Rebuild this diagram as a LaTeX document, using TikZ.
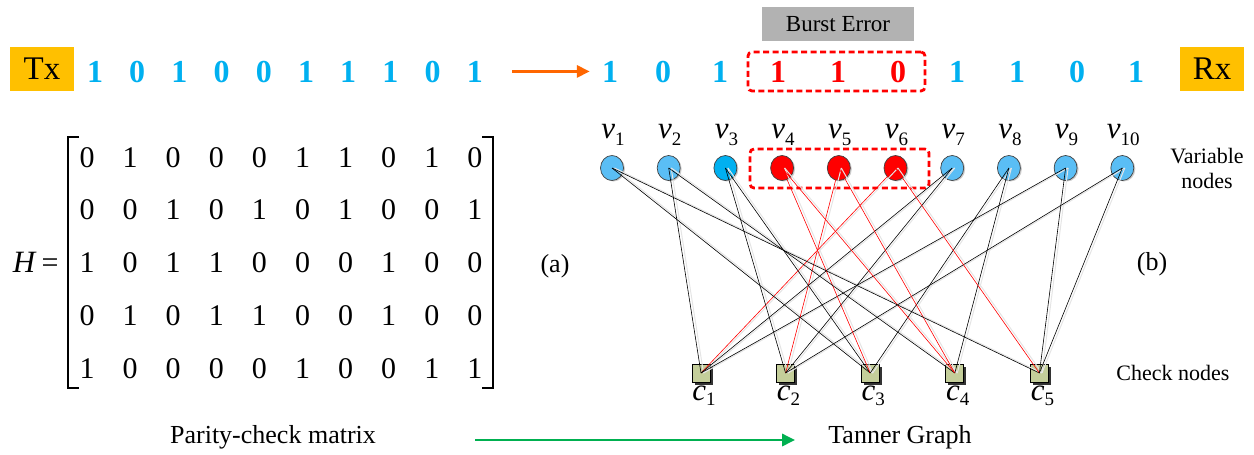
\documentclass[tikz,border=0pt]{standalone}
\usepackage{fontspec}
\setmainfont{Liberation Serif}
\usetikzlibrary{arrows.meta,shapes.geometric,shadows}
\newcommand\fsz[1]{\fontsize{#1}{#1}\selectfont}
\definecolor{bitblue}{RGB}{0,176,240}
\definecolor{errred}{RGB}{255,0,0}
\definecolor{tagfill}{RGB}{255,192,0}
\definecolor{greyfill}{RGB}{178,178,178}
\definecolor{arroworange}{RGB}{255,102,0}
\definecolor{arrowgreen}{RGB}{0,176,80}
\definecolor{varblue}{RGB}{90,190,245}
\definecolor{checkfill}{RGB}{196,206,154}
\tikzset{
  bit/.style={anchor=base, inner sep=0pt, font=\fsz{32}\bfseries, text=bitblue},
  tag/.style={fill=tagfill, minimum width=64pt, minimum height=44pt, inner sep=0pt, font=\fsz{33}},
  errbox/.style={draw=errred, line width=2.8pt, dash pattern=on 6pt off 3.5pt, rounded corners=4pt, inner sep=0pt},
  varnode/.style={ellipse, draw=black!75, line width=0.7pt, minimum width=23pt, minimum height=25pt, inner sep=0pt,
    drop shadow={shadow xshift=1.5pt, shadow yshift=-1pt, fill=black!20, opacity=1}},
  checknode/.style={rectangle, draw=black, line width=0.9pt, fill=checkfill, minimum size=18pt, inner sep=0pt,
    drop shadow={shadow xshift=2.5pt, shadow yshift=-2.5pt, fill=black!80, opacity=1}},
  edge/.style={line width=0.6pt},
  mat/.style={anchor=base, inner sep=0pt, font=\fsz{30}},
  label/.style={inner sep=0pt},
  bigarrow/.style={line width=2.8pt, -{Triangle[length=13pt,width=12pt]}},
  bracket/.style={line width=1.6pt, line cap=butt, line join=miter},
}
\begin{document}
\begin{tikzpicture}[x=1pt,y=-1pt]
\useasboundingbox (0,0) rectangle (1254,455);

% ---- transmitted and received words ----
\node[tag] (tx) at (42,69) {Tx};
\node[tag] (rx) at (1212,69) {Rx};
\foreach \b [count=\i] in {1,0,1,0,0,1,1,1,0,1}
  \node[bit] (tx\i) at ({95+42.2*(\i-1)},82) {\b};
\foreach \x/\b/\c [count=\i] in {610/1/bitblue,663/0/bitblue,720/1/bitblue,778/1/errred,838/1/errred,898/0/errred,957/1/bitblue,1017/1/bitblue,1077/0/bitblue,1136/1/bitblue}
  \node[bit, text=\c] (rx\i) at (\x,82) {\b};
\draw[bigarrow, arroworange, shorten <=29pt, shorten >=12pt] (tx10.east) -- (rx1.west);

\node[fill=greyfill, minimum width=152pt, minimum height=34pt, inner sep=0pt, font=\fsz{23}] (burst) at (838,24) {Burst Error};
\node[errbox, minimum width=177pt, minimum height=39pt] (burstbox) at (836.5,71.5) {};

% ---- parity-check matrix ----
\node[anchor=base, label, font=\fsz{31}\itshape] (H) at (24,272.5) {H};
\node[anchor=base, label, font=\fsz{30}] (eq) at (50,272.5) {=};
\foreach \row [count=\r] in {{0,1,0,0,0,1,1,0,1,0},{0,0,1,0,1,0,1,0,0,1},{1,0,1,1,0,0,0,1,0,0},{0,1,0,1,1,0,0,1,0,0},{1,0,0,0,0,1,0,0,1,1}}
  \foreach \e [count=\j] in \row
    \node[mat] (m\r-\j) at ({87+43.1*(\j-1)},{167+52.75*(\r-1)}) {\e};
\draw[bracket] (79,137) -- (68,137) -- (68,388) -- (79,388);
\draw[bracket] (482,137) -- (493,137) -- (493,388) -- (482,388);
\node[anchor=base, label, font=\fsz{26}] (capa) at (555,272) {(a)};

% ---- Tanner graph ----
\foreach \i/\col in {1/varblue,2/varblue,3/bitblue,4/errred,5/errred,6/errred,7/varblue,8/varblue,9/varblue,10/varblue} {
  \node[varnode, fill=\col] (v\i) at ({612+56.7*(\i-1)},168) {};
  \node[anchor=base, label] (lv\i) at ({613+56.7*(\i-1)},138) {\fsz{31}\textit{v}\raisebox{-7pt}{\fsz{19}\i}};
}
\foreach \i in {1,...,5} {
  \node[checknode] (c\i) at ({701+84.6*(\i-1)},373) {};
  \node[anchor=base, label] (lc\i) at ({704+84.6*(\i-1)},400) {\fsz{31}\textit{c}\raisebox{-5pt}{\fsz{19}\i}};
}
\node[errbox, minimum width=179pt, minimum height=39pt] (vbox) at (839.5,168.5) {};

% faint offset trace behind every edge
\begin{scope}[transform canvas={xshift=2.5pt}]
\foreach \c/\v in {1/2,1/6,1/7,1/9,2/3,2/5,2/7,2/10,3/1,3/3,3/4,3/8,4/2,4/4,4/5,4/8,5/1,5/6,5/9,5/10}
  \draw[black!10, line width=1pt] (v\v.center) -- (c\c.center);
\end{scope}
\foreach \c/\v/\col in {1/2/black,1/6/errred,1/7/black,1/9/black,2/3/black,2/5/errred,2/7/black,2/10/black,
                        3/1/black,3/3/black,3/4/errred,3/8/black,4/2/black,4/4/errred,4/5/errred,4/8/black,
                        5/1/black,5/6/errred,5/9/black,5/10/black}
  \draw[edge, draw=\col] (v\v.center) -- (c\c.center);

\node[label, align=center, font=\fsz{22}] (varlab) at (1207,168) {Variable\\[3pt]nodes};
\node[anchor=base, label, font=\fsz{26}] (capb) at (1152,270) {(b)};
\node[label, font=\fsz{22}] (chklab) at (1173,373) {Check nodes};

% ---- captions ----
\node[label, font=\fsz{26}] (pcm) at (273,437) {Parity-check matrix};
\node[label, font=\fsz{26}] (tg) at (900,437) {Tanner Graph};
\draw[bigarrow, arrowgreen, shorten <=99pt, shorten >=33pt] ([yshift=-3pt]pcm.east) -- ([yshift=-3pt]tg.west);
\end{tikzpicture}
\end{document}
